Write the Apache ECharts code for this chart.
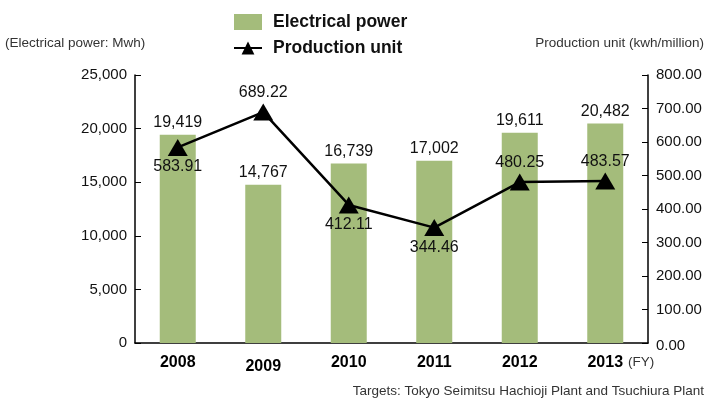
<!DOCTYPE html>
<html><head><meta charset="utf-8">
<script src="https://cdn.jsdelivr.net/npm/echarts@6/dist/echarts.min.js"></script>
<style>html,body{margin:0;padding:0;background:#fff}#c{width:706px;height:399px}</style>
</head><body><div id="c"></div>
<script>
const categories = ['2008','2009','2010','2011','2012','2013'];
const electricalPower = [19419, 14767, 16739, 17002, 19611, 20482];
const productionUnit = [583.91, 689.22, 412.11, 344.46, 480.25, 483.57];
const lineLabelPos = ['bottom','top','bottom','bottom','top','top'];
const FONT = '"Liberation Sans", Arial, Helvetica, sans-serif';

const chart = echarts.init(document.getElementById('c'));
chart.setOption({
  animation: false,
  textStyle: {fontFamily: FONT},
  grid: {left: 135, right: 58, top: 75, bottom: 56, containLabel: false},
  legend: {
    orient: 'vertical', left: 228, top: 8, itemGap: 8, itemWidth: 28, itemHeight: 16,
    textStyle: {fontFamily: FONT, fontSize: 17.5, fontWeight: 'bold', color: '#111', padding: [0, 0, 0, 6]},
    data: [{name: 'Electrical power', icon: 'rect', itemStyle: {color: '#a4bc7b'}}, {name: 'Production unit'}]
  },
  xAxis: {
    type: 'category', data: categories,
    axisLine: {lineStyle: {color: '#000', width: 1.5}},
    axisTick: {show: false},
    axisLabel: {
      margin: 12, color: '#000', fontFamily: FONT, fontSize: 16, fontWeight: 'bold',
      formatter: v => v === '2009' ? '{d|' + v + '}' : v,
      rich: {d: {fontFamily: FONT, fontSize: 16, fontWeight: 'bold', color: '#000', padding: [4, 0, 0, 0]}}
    }
  },
  yAxis: [
    {type: 'value', min: 0, max: 25000, interval: 5000,
     axisLine: {show: true, lineStyle: {color: '#000', width: 1.5}},
     axisTick: {show: true, inside: true, length: 6, lineStyle: {color: '#000'}},
     splitLine: {show: false},
     axisLabel: {color: '#111', fontSize: 15, fontFamily: FONT, margin: 8,
       formatter: v => v.toLocaleString('en-US')}},
    {type: 'value', min: 0, max: 800, interval: 100, position: 'right',
     axisLine: {show: true, lineStyle: {color: '#000', width: 1.5}},
     axisTick: {show: true, inside: true, length: 6, lineStyle: {color: '#000'}},
     splitLine: {show: false},
     axisLabel: {color: '#111', fontSize: 15, fontFamily: FONT, margin: 8,
       formatter: v => v === 0 ? '{z|0.00}' : v.toFixed(2),
       rich: {z: {fontSize: 15, fontFamily: FONT, color: '#111', padding: [6, 0, 0, 0]}}}}
  ],
  series: [
    {name: 'Electrical power', type: 'bar', data: electricalPower, barWidth: 36,
     itemStyle: {color: '#a4bc7b'},
     label: {show: true, position: 'top', distance: 4, fontSize: 16, color: '#111', fontFamily: FONT,
       formatter: p => p.value.toLocaleString('en-US')}},
    {name: 'Production unit', type: 'line', yAxisIndex: 1,
     data: productionUnit.map((v, i) => ({value: v, label: {position: lineLabelPos[i]}})),
     symbol: 'triangle', symbolSize: [20, 17],
     lineStyle: {color: '#000', width: 2.5}, itemStyle: {color: '#000'},
     label: {show: true, distance: 3, fontSize: 16, color: '#111', fontFamily: FONT,
       formatter: p => p.value.toFixed(2)}, z: 5}
  ],
  graphic: [
    {type: 'text', left: 5, top: 36, style: {text: '(Electrical power: Mwh)', fontSize: 13.5, fontFamily: FONT, fill: '#333'}},
    {type: 'text', right: 2, top: 36, style: {text: 'Production unit (kwh/million)', fontSize: 13.5, fontFamily: FONT, fill: '#333'}},
    {type: 'text', left: 628, top: 355, style: {text: '(FY)', fontSize: 13.5, fontFamily: FONT, fill: '#333'}},
    {type: 'text', right: 2, top: 384, style: {text: 'Targets: Tokyo Seimitsu Hachioji Plant and Tsuchiura Plant', fontSize: 13.5, fontFamily: FONT, fill: '#333'}}
  ]
});
</script></body></html>
